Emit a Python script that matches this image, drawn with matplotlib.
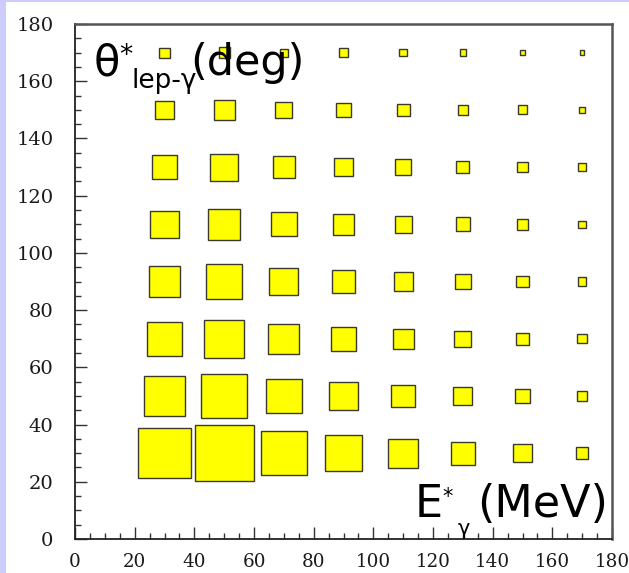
import matplotlib
matplotlib.use("Agg")
import matplotlib.pyplot as plt
from matplotlib.patches import Rectangle
from matplotlib.ticker import MultipleLocator

# ---- data ----
x_centers = [30, 50, 70, 90, 110, 130, 150, 170]          # E*_gamma (MeV)
y_centers = [30, 50, 70, 90, 110, 130, 150, 170]          # theta*_lep-gamma (deg)
# box side lengths (data units), one row per y bin (bottom to top)
row_30 = [17.9, 20.0, 15.6, 12.7, 10.4, 8.4, 6.4, 4.5]
row_50 = [14.1, 15.9, 12.3, 9.9, 8.2, 6.6, 5.0, 3.7]
row_70 = [12.2, 13.5, 10.7, 8.8, 7.3, 5.9, 4.5, 3.6]
row_90 = [10.8, 12.2, 10.0, 8.2, 6.6, 5.5, 4.4, 3.2]
row_110 = [9.9, 11.2, 8.8, 7.5, 6.1, 5.1, 4.2, 2.9]
row_130 = [8.5, 9.7, 7.8, 6.7, 5.6, 4.7, 3.8, 2.8]
row_150 = [6.4, 7.3, 6.1, 5.3, 4.6, 3.8, 3.4, 2.5]
row_170 = [3.8, 3.9, 3.1, 3.4, 2.9, 2.5, 2.1, 1.8]
box_sizes = [row_30, row_50, row_70, row_90, row_110, row_130, row_150, row_170]
tick_values = [0, 20, 40, 60, 80, 100, 120, 140, 160, 180]

W, H = 629, 573
fig = plt.figure(figsize=(W / 100, H / 100), dpi=100)
fig.patch.set_facecolor("white")

def fx(px):
    return px / W

def fy(py):
    return 1 - py / H

# lavender frame strips
fig.patches.append(Rectangle((0, 0), fx(6), 1, transform=fig.transFigure,
                             facecolor="#ccccff", edgecolor="none", zorder=0))
fig.patches.append(Rectangle((0, fy(2)), 1, 2 / H, transform=fig.transFigure,
                             facecolor="#ccccff", edgecolor="none", zorder=0))

ax = fig.add_axes([fx(75), fy(539), fx(612) - fx(75), fy(24) - fy(539)])
ax.set_xlim(0, 180)
ax.set_ylim(0, 180)

shrink = 0.3
for yc, row in zip(y_centers, box_sizes):
    for xc, s in zip(x_centers, row):
        s = s - shrink
        ax.add_patch(Rectangle((xc - s / 2, yc - s / 2), s, s,
                               facecolor="#ffff00", edgecolor="#3a3a2a",
                               linewidth=1.0, zorder=2))

ax.set_xticks(tick_values)
ax.set_yticks(tick_values)
ax.xaxis.set_minor_locator(MultipleLocator(5))
ax.yaxis.set_minor_locator(MultipleLocator(5))
ax.tick_params(which="both", direction="in", top=False, right=False,
               color="#333333", width=1.0)
ax.tick_params(which="major", length=8.6)
ax.tick_params(which="minor", length=4.3)
ax.tick_params(axis="x", which="major", pad=10)
ax.tick_params(axis="y", which="major", pad=15.5)
for lab in ax.get_yticklabels():
    lab.set_fontfamily("DejaVu Serif")
    lab.set_fontsize(14)
    lab.set_color("#1a1a1a")
for lab in ax.get_xticklabels():
    lab.set_fontfamily("DejaVu Serif")
    lab.set_fontsize(13.2)
    lab.set_color("#1a1a1a")

for side in ["left", "bottom"]:
    ax.spines[side].set_color("#222222")
    ax.spines[side].set_linewidth(1.3)
for side in ["top", "right"]:
    ax.spines[side].set_color("#555555")
    ax.spines[side].set_linewidth(1.8)

sans = "DejaVu Sans"
# y-axis title: theta*_{lep-gamma}(deg)
fig.text(fx(94), fy(75), "\u03b8", fontsize=31, family=sans, ha="left", va="baseline")
fig.text(fx(119), fy(63), "*", fontsize=19, family=sans, ha="left", va="baseline")
fig.text(fx(131), fy(88), "lep-\u03b3", fontsize=19, family=sans, ha="left", va="baseline")
fig.text(fx(190), fy(75), "(deg)", fontsize=31, family=sans, ha="left", va="baseline")

# x-axis title: E*_gamma(MeV)
fig.text(fx(415), fy(517), "E", fontsize=32, family=sans, ha="left", va="baseline")
fig.text(fx(442), fy(503), "*", fontsize=15, family=sans, ha="left", va="baseline")
fig.text(fx(458), fy(535), "\u03b3", fontsize=15, family=sans, ha="left", va="baseline")
fig.text(fx(477), fy(517), "(MeV)", fontsize=32, family=sans, ha="left", va="baseline")

fig.savefig("out.png", dpi=100)
